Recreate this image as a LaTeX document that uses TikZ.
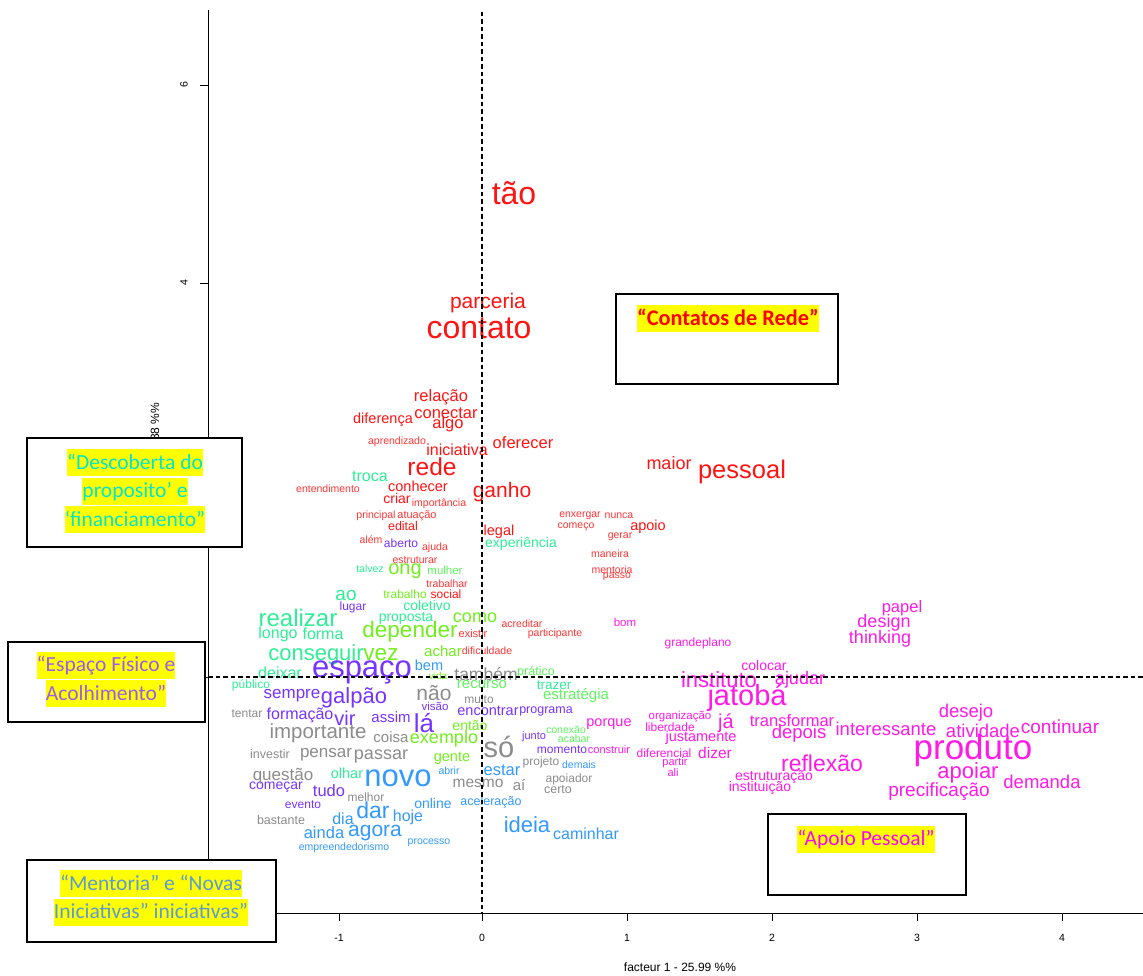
\documentclass[tikz,border=0pt]{standalone}
\usepackage{fontspec}
\setmainfont{Liberation Sans}
\newfontfamily\calib{Carlito}
\definecolor{RA}{HTML}{FF1414}
\definecolor{RB}{HTML}{FF3636}
\definecolor{GA}{HTML}{2EEE96}
\definecolor{GB}{HTML}{72EE1E}
\definecolor{GC}{HTML}{5EF55E}
\definecolor{PU}{HTML}{7733FF}
\definecolor{GY}{HTML}{8C8C8C}
\definecolor{BL}{HTML}{3399FF}
\definecolor{MG}{HTML}{FF1AE6}
\definecolor{HY}{HTML}{FFFF00}
\definecolor{TCy}{HTML}{00E6D2}
\definecolor{TPu}{HTML}{9B5CF0}
\definecolor{TBl}{HTML}{5B9BD5}
\definecolor{TMg}{HTML}{FF00FF}
\newcommand\W[6]{\node[wd,text=#5,font=\fontsize{#4}{#4}\selectfont] (#1) at (#2,#3) {#6};}
\newcommand\hlt[1]{{\setlength\fboxsep{0pt}\colorbox{HY}{\rule[-7pt]{0pt}{27pt}#1}}}
\begin{document}
\begin{tikzpicture}[x=1pt,y=-1pt,
  wd/.style={inner sep=0pt,anchor=center},
  callbox/.style={draw=black,fill=white,line width=1.6pt,inner sep=0pt},
  calltext/.style={inner sep=0pt,align=center,font=\calib\fontsize{21.5}{28.5}\selectfont},
  axlab/.style={inner sep=0pt,font=\fontsize{10.5}{10.5}\selectfont},
  dashline/.style={line width=1.1pt,dash pattern=on 4.5pt off 3pt}]
\useasboundingbox[fill=white] (0,0) rectangle (1143,976);

% ---------- words: red ----------
\W{tao}{514}{193}{32}{RA}{tão}
\W{parceria}{488}{303}{21}{RA}{parceria}
\W{contato}{479}{328}{32}{RA}{contato}
\W{relacao}{441}{397}{16.5}{RA}{relação}
\W{diferenca}{383}{420}{14.5}{RA}{diferença}
\W{conectar}{446}{413}{16.5}{RA}{conectar}
\W{algo}{448}{424}{16.5}{RA}{algo}
\W{aprendizado}{397}{442}{10.5}{RB}{aprendizado}
\W{iniciativa}{457}{450}{16}{RA}{iniciativa}
\W{oferecer}{523}{443}{16.5}{RA}{oferecer}
\W{rede}{432}{467}{24.5}{RA}{rede}
\W{entendimento}{328}{489}{10.5}{RB}{entendimento}
\W{conhecer}{418}{486}{14.5}{RA}{conhecer}
\W{ganho}{502}{492}{21}{RA}{ganho}
\W{criar}{397}{498}{14}{RA}{criar}
\W{importancia}{439}{504}{10.5}{RB}{importância}
\W{principal}{376}{516}{10.5}{RB}{principal}
\W{atuacao}{417}{516}{11}{RB}{atuação}
\W{edital}{403}{526}{12.5}{RA}{edital}
\W{legal}{499}{532}{14.5}{RA}{legal}
\W{alem}{371}{540}{10.5}{RB}{além}
\W{ajuda}{435}{548}{10.5}{RB}{ajuda}
\W{estruturar}{415}{560}{10.5}{RB}{estruturar}
\W{maior}{669}{463}{18}{RA}{maior}
\W{pessoal}{742}{472}{25.5}{RA}{pessoal}
\W{enxergar}{580}{516}{10.5}{RB}{enxergar}
\W{nunca}{619}{516}{10.5}{RB}{nunca}
\W{comeco}{576}{527}{10.5}{RB}{começo}
\W{apoio}{648}{527}{14.5}{RA}{apoio}
\W{gerar}{620}{537}{10.5}{RB}{gerar}
\W{maneira}{610}{554}{10.5}{RB}{maneira}
\W{mentoria}{612}{570}{10.5}{RB}{mentoria}
\W{passo}{617}{577}{10.5}{RB}{passo}
\W{trabalhar}{447}{584}{10.5}{RB}{trabalhar}
\W{social}{446}{594}{12}{RA}{social}
\W{acreditar}{522}{624}{10.5}{RB}{acreditar}
\W{existir}{473}{634}{11}{RB}{existir}
\W{participante}{555}{634}{10.5}{RB}{participante}
\W{dificuldade}{487}{651}{10.5}{RB}{dificuldade}

% ---------- words: greens ----------
\W{troca}{370}{476}{16}{GA}{troca}
\W{experiencia}{521}{544}{14}{GA}{experiência}
\W{talvez}{370}{569}{10.5}{GA}{talvez}
\W{ao}{346}{595}{19}{GA}{ao}
\W{coletivo}{427}{605}{14}{GA}{coletivo}
\W{realizar}{298}{618}{24}{GA}{realizar}
\W{proposta}{406}{618}{14}{GA}{proposta}
\W{longo}{278}{634}{16}{GA}{longo}
\W{forma}{323}{634}{16}{GA}{forma}
\W{conseguir}{316}{655}{22}{GA}{conseguir}
\W{deixar}{280}{673}{16}{GA}{deixar}
\W{publico}{251}{685}{12}{GA}{público}
\W{olhar}{347}{773}{14.5}{GA}{olhar}
\W{trazer}{554}{685}{13.5}{GA}{trazer}
\W{ong}{405}{571}{20}{GB}{ong}
\W{mulher}{445}{570}{11.5}{GC}{mulher}
\W{trabalho}{405}{594}{12}{GB}{trabalho}
\W{como}{475}{618}{18}{GB}{como}
\W{depender}{410}{632}{22.5}{GB}{depender}
\W{vez}{381}{655}{22.5}{GB}{vez}
\W{achar}{443}{651}{15}{GB}{achar}
\W{vida}{438}{676}{10}{GB}{vida}
\W{exemplo}{444}{739}{18}{GB}{exemplo}
\W{entao}{470}{726}{14}{GB}{então}
\W{gente}{452}{758}{14.5}{GB}{gente}
\W{recurso}{482}{685}{15}{GC}{recurso}
\W{pratico}{536}{672}{12.5}{GC}{prático}
\W{estrategia}{576}{696}{15}{GC}{estratégia}
\W{conexao}{566}{730}{10.5}{GC}{conexão}
\W{acabar}{574}{739}{10.5}{GC}{acabar}

% ---------- words: purple ----------
\W{aberto}{401}{543}{12}{PU}{aberto}
\W{lugar}{353}{607}{12}{PU}{lugar}
\W{espaco}{362}{672}{31}{PU}{espaço}
\W{sempre}{292}{696}{17}{PU}{sempre}
\W{galpao}{354}{698}{22}{PU}{galpão}
\W{visao}{435}{706}{11.5}{PU}{visão}
\W{encontrar}{488}{711}{14.5}{PU}{encontrar}
\W{programa}{546}{711}{12.5}{PU}{programa}
\W{formacao}{300}{715}{16}{PU}{formação}
\W{vir}{345}{718}{20}{PU}{vir}
\W{assim}{391}{717}{15}{PU}{assim}
\W{la}{424}{723}{26}{PU}{lá}
\W{junto}{534}{737}{11}{PU}{junto}
\W{momento}{562}{750}{12}{PU}{momento}
\W{comecar}{276}{787}{14}{PU}{começar}
\W{tudo}{329}{791}{16.5}{PU}{tudo}
\W{evento}{303}{805}{12}{PU}{evento}

% ---------- words: gray ----------
\W{tambem}{486}{674}{17.5}{GY}{também}
\W{nao}{434}{693}{21}{GY}{não}
\W{muito}{479}{699}{12}{GY}{muito}
\W{tentar}{247}{714}{12}{GY}{tentar}
\W{importante}{318}{733}{20.5}{GY}{importante}
\W{coisa}{391}{737}{15}{GY}{coisa}
\W{so}{499}{747}{29}{GY}{só}
\W{investir}{270}{754}{12.5}{GY}{investir}
\W{pensar}{326}{755}{17}{GY}{pensar}
\W{passar}{381}{757}{18}{GY}{passar}
\W{projeto}{541}{762}{12}{GY}{projeto}
\W{questao}{283}{776}{17}{GY}{questão}
\W{mesmo}{478}{783}{15.5}{GY}{mesmo}
\W{ai}{519}{785}{15}{GY}{aí}
\W{apoiador}{569}{779}{12}{GY}{apoiador}
\W{certo}{558}{790}{12.5}{GY}{certo}
\W{melhor}{366}{797}{12}{GY}{melhor}
\W{bastante}{281}{820}{12.5}{GY}{bastante}

% ---------- words: blue ----------
\W{bem}{429}{665}{14.5}{BL}{bem}
\W{abrir}{449}{771}{10.5}{BL}{abrir}
\W{estar}{502}{770}{16.5}{BL}{estar}
\W{novo}{398}{778}{31}{BL}{novo}
\W{demais}{579}{765}{10.5}{BL}{demais}
\W{online}{433}{803}{14}{BL}{online}
\W{aceleracao}{491}{802}{12.5}{BL}{aceleração}
\W{dar}{373}{810}{23}{BL}{dar}
\W{hoje}{408}{817}{16}{BL}{hoje}
\W{dia}{343}{819}{16}{BL}{dia}
\W{ainda}{324}{833}{16.5}{BL}{ainda}
\W{agora}{375}{833}{21}{BL}{agora}
\W{ideia}{527}{825}{22}{BL}{ideia}
\W{caminhar}{586}{834}{16}{BL}{caminhar}
\W{empreendedorismo}{344}{848}{10.5}{BL}{empreendedorismo}
\W{processo}{429}{843}{10.5}{BL}{processo}

% ---------- words: magenta ----------
\W{bom}{625}{622}{11.5}{MG}{bom}
\W{grandeplano}{698}{643}{12}{MG}{grandeplano}
\W{papel}{902}{608}{16.5}{MG}{papel}
\W{design}{884}{623}{18}{MG}{design}
\W{thinking}{880}{639}{18}{MG}{thinking}
\W{colocar}{764}{665}{14}{MG}{colocar}
\W{instituto}{719}{680}{22}{MG}{instituto}
\W{ajudar}{800}{680}{18}{MG}{ajudar}
\W{jatoba}{747}{698}{29}{MG}{jatobá}
\W{organizacao}{680}{717}{11.5}{MG}{organização}
\W{liberdade}{670}{727}{12}{MG}{liberdade}
\W{ja}{726}{723}{20}{MG}{já}
\W{porque}{609}{724}{14.5}{MG}{porque}
\W{justamente}{701}{738}{14.5}{MG}{justamente}
\W{construir}{609}{750}{11}{MG}{construir}
\W{diferencial}{664}{753}{12}{MG}{diferencial}
\W{dizer}{715}{753}{15.5}{MG}{dizer}
\W{partir}{675}{763}{11}{MG}{partir}
\W{ali}{673}{773}{11}{MG}{ali}
\W{transformar}{792}{721}{16.5}{MG}{transformar}
\W{depois}{799}{734}{18.5}{MG}{depois}
\W{reflexao}{822}{763}{23}{MG}{reflexão}
\W{estruturacao}{774}{777}{14}{MG}{estruturação}
\W{instituicao}{760}{788}{14}{MG}{instituição}
\W{desejo}{966}{713}{18.5}{MG}{desejo}
\W{interessante}{886}{729}{18.5}{MG}{interessante}
\W{atividade}{983}{731}{18.5}{MG}{atividade}
\W{continuar}{1060}{727}{19}{MG}{continuar}
\W{produto}{973}{750}{35}{MG}{produto}
\W{apoiar}{968}{773}{22}{MG}{apoiar}
\W{demanda}{1042}{782}{18.5}{MG}{demanda}
\W{precificacao}{939}{792}{19}{MG}{precificação}

% ---------- frame, axes ----------
\coordinate (ftl) at (208,10);
\coordinate (fbl) at (208,913);
\coordinate (fbr) at (1143,913);
\draw[line width=0.9pt] (ftl) -- (fbl) -- (fbr);
\coordinate (vtop) at (482,12);
\coordinate (vbot) at (482,913);
\coordinate (hleft) at (208,677);
\coordinate (hright) at (1143,677);
\draw[dashline] (vtop) -- (vbot);
\draw[dashline] (hleft) -- (hright);
\foreach \xx/\ll in {339/-1,482/0,627/1,772/2,917/3,1062/4}{
  \draw[line width=0.8pt] (\xx,913) -- (\xx,921);
  \node[axlab] (xt\xx) at (\xx,938) {\ll};
}
\foreach \yy/\ll in {85/6,283/4,481/2,677/0}{
  \draw[line width=0.8pt] (200,\yy) -- (208,\yy);
  \node[axlab,rotate=90] (yt\yy) at (184,\yy) {\ll};
}
\node[inner sep=0pt,font=\fontsize{12}{12}\selectfont] (xtitle) at (680,967) {facteur 1 - 25.99 \%\%};
\node[inner sep=0pt,font=\fontsize{12}{12}\selectfont,rotate=90,anchor=west] (ytitle) at (155,441) {88 \%\%};

% ---------- call-out boxes ----------
\node[callbox,minimum width=222pt,minimum height=90pt] (boxRede) at (727,339) {};
\node[calltext,text=red,font=\calib\bfseries\fontsize{22.3}{28.5}\selectfont] (txtRede) at (728,318.5) {\hlt{“Contatos de Rede”}};

\node[callbox,minimum width=215pt,minimum height=109pt] (boxDesc) at (134.5,492.5) {};
\node[calltext,text=TCy] (txtDesc) at (135,491) {\hlt{“Descoberta do}\\\hlt{proposito’ e}\\\hlt{‘financiamento”}};

\node[callbox,minimum width=197pt,minimum height=80pt] (boxEsp) at (106.5,682) {};
\node[calltext,text=TPu] (txtEsp) at (106,679.5) {\hlt{“Espaço Físico e}\\\hlt{Acolhimento”}};

\node[callbox,minimum width=249pt,minimum height=82pt] (boxMent) at (151.5,901) {};
\node[calltext,text=TBl] (txtMent) at (151,898) {\hlt{“Mentoria” e “Novas}\\\hlt{Iniciativas” iniciativas”}};

\node[callbox,minimum width=198pt,minimum height=81pt] (boxApoio) at (867,854.5) {};
\node[calltext,text=TMg] (txtApoio) at (866,839) {\hlt{“Apoio Pessoal”}};
\end{tikzpicture}
\end{document}
